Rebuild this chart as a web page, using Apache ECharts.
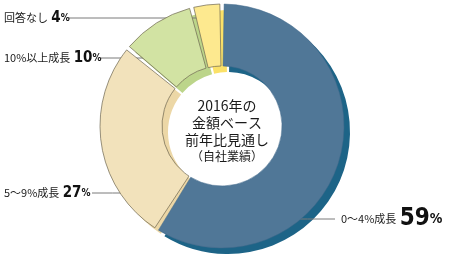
<!DOCTYPE html>
<html>
<head>
<meta charset="utf-8">
<script src="https://cdn.jsdelivr.net/npm/echarts@6/dist/echarts.min.js"></script>
<style>
  html, body { margin: 0; padding: 0; background: #fff; }
  #chart { width: 450px; height: 262px; }
</style>
</head>
<body>
<div id="chart"></div>
<script>
// 2016年の金額ベース前年比見通し（自社業績）
const categories = ['0〜4%成長', '5〜9%成長', '10%以上成長', '回答なし'];
const shares = [59, 27, 10, 4];

// face colours and the darker extrusion colours behind them
const faceColors = ['#507797', '#f2e2bb', '#d2e3a3', '#fde98f'];
const sideColors = ['#1d6487', '#ecd7a6', '#bcd58a', '#fbe168'];

// where each callout sits: text anchor and the horizontal leader line
const callouts = [
  { x: 341, y: 219, from: 280, to: 335 },
  { x: 4,   y: 193, from: 133, to: 92 },
  { x: 4,   y: 58,  from: 150, to: 101 },
  { x: 4,   y: 18,  from: 201, to: 69 }
];

const numFont = "'DejaVu Sans', sans-serif";
const jpFont = "'Noto Sans CJK JP', sans-serif";
// bold + condensed width for the percentage figures
const numWeight = 'bold condensed';

const CX = 222, CY = 126, R0 = 60, R1 = 122, DEPTH = 6;

const faceData = categories.map((name, i) => ({
  name,
  value: shares[i],
  itemStyle: {
    color: faceColors[i],
    borderColor: i === 0 ? '#41688a' : '#6d6550',
    borderWidth: i === 0 ? 0.5 : 0.7
  },
  label: {
    formatter: i === 0 ? '{n|{b}} {V|{c}}{U|%}' : '{n|{b}} {v|{c}}{u|%}'
  }
}));

const sideData = categories.map((name, i) => ({
  name,
  value: shares[i],
  itemStyle: { color: sideColors[i] }
}));

const chart = echarts.init(document.getElementById('chart'), null, { renderer: 'canvas' });

chart.setOption({
  animation: false,
  backgroundColor: '#ffffff',
  title: {
    text: '{a|2016年の}\n{a|金額ベース}\n{a|前年比見通し}\n{b|（自社業績）}',
    left: CX,
    top: 92,
    textAlign: 'center',
    textStyle: {
      fontWeight: 'normal',
      rich: {
        a: { fontFamily: jpFont, fontSize: 14, fontWeight: 'normal', lineHeight: 17, color: '#1a1a1a', align: 'center' },
        b: { fontFamily: jpFont, fontSize: 12, fontWeight: 'normal', lineHeight: 17, color: '#1a1a1a', align: 'center' }
      }
    }
  },
  series: [
    {
      // extrusion layer, shifted down-right
      type: 'pie',
      silent: true,
      z: 1,
      center: [CX + DEPTH, CY + DEPTH],
      radius: [R0, R1],
      startAngle: 90,
      padAngle: 2,
      label: { show: false },
      labelLine: { show: false },
      emphasis: { disabled: true },
      data: sideData
    },
    {
      type: 'pie',
      z: 2,
      center: [CX, CY],
      radius: [R0, R1],
      startAngle: 90,
      padAngle: 2,
      emphasis: { disabled: true },
      label: {
        show: true,
        position: 'outside',
        overflow: 'none',
        color: '#1a1a1a',
        rich: {
          n: { fontFamily: jpFont, fontSize: 11, color: '#1a1a1a' },
          v: { fontFamily: numFont, fontSize: 15, fontWeight: numWeight, color: '#111' },
          u: { fontFamily: numFont, fontSize: 10, fontWeight: numWeight, color: '#111' },
          V: { fontFamily: numFont, fontSize: 24, fontWeight: numWeight, color: '#111' },
          U: { fontFamily: numFont, fontSize: 14, fontWeight: numWeight, color: '#111' }
        }
      },
      labelLine: {
        show: true,
        lineStyle: { color: '#7a7a7a', width: 1 }
      },
      labelLayout: function (params) {
        const c = callouts[params.dataIndex];
        return {
          x: c.x,
          y: c.y,
          align: 'left',
          verticalAlign: 'middle',
          hideOverlap: false,
          labelLinePoints: [[c.from, c.y], [(c.from + c.to) / 2, c.y], [c.to, c.y]]
        };
      },
      data: faceData
    }
  ]
});
</script>
</body>
</html>
